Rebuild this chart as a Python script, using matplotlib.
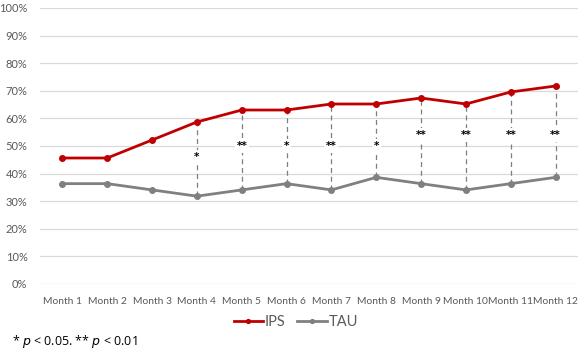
import matplotlib
matplotlib.use("Agg")
import matplotlib.pyplot as plt
from matplotlib.ticker import PercentFormatter

months = ["Month 1", "Month 2", "Month 3", "Month 4", "Month 5", "Month 6",
          "Month 7", "Month 8", "Month 9", "Month 10", "Month 11", "Month 12"]
ips = [45.65, 45.65, 52.17, 58.70, 63.04, 63.04, 65.22, 65.22, 67.39, 65.22, 69.57, 71.74]
tau = [36.36, 36.36, 34.09, 31.82, 34.09, 36.36, 34.09, 38.64, 36.36, 34.09, 36.36, 38.64]
sig_labels = ["", "", "", "*", "**", "*", "**", "*", "**", "**", "**", "**"]
sig_y = [None, None, None, 46.0, 50.0, 50.0, 50.0, 50.0, 54.0, 54.0, 54.0, 54.0]
yticks = list(range(0, 101, 10))

plt.rcParams['font.family'] = ['Lato', 'DejaVu Sans']
fig = plt.figure(figsize=(5.8, 3.53), dpi=100)
ax = fig.add_axes([40/580, 1-284/353, 538/580, 276/353])

x = list(range(len(months)))
text_c = "#595959"
for i in x:
    if sig_labels[i]:
        ax.plot([i, i], [tau[i], ips[i]], ls=(0, (4, 3)), color="#7f7f7f", lw=0.9, zorder=2)
        ax.text(i, sig_y[i], sig_labels[i], ha="center", va="center", fontsize=7.5,
                family="DejaVu Sans", fontweight="bold", color="black", zorder=3,
                bbox=dict(facecolor="white", edgecolor="none", pad=1.2))

ax.plot(x, ips, color="#C00000", lw=2, marker="o", ms=4, label="IPS", zorder=4)
ax.plot(x, tau, color="#808080", lw=2, marker="o", ms=4, label="TAU", zorder=4)

ax.set_xlim(-0.5, len(months) - 0.5)
ax.set_ylim(0, 100)
ax.set_yticks(yticks)
ax.yaxis.set_major_formatter(PercentFormatter(decimals=0))
ax.set_xticks(x)
ax.set_xticklabels(months)
ax.tick_params(axis="both", length=0, colors=text_c)
ax.tick_params(axis="x", labelsize=7.4, pad=9)
ax.tick_params(axis="y", labelsize=8, pad=9)
ax.grid(axis="y", color="#D9D9D9", lw=0.9, zorder=0)
ax.set_axisbelow(True)
for s in ax.spines.values():
    s.set_visible(False)

leg = fig.legend(loc="center", bbox_to_anchor=(296/580, 1-322/353), ncol=2, frameon=False,
                 fontsize=10.5, handlelength=2.0, handletextpad=0.15, columnspacing=0.8,
                 labelcolor=text_c, markerscale=0.7)

fig.text(12/580, 1-342/353, r"* $\it{p}$ < 0.05. ** $\it{p}$ < 0.01", fontsize=9,
         family="Open Sans", va="center", ha="left")

fig.savefig("out.png", dpi=100)
